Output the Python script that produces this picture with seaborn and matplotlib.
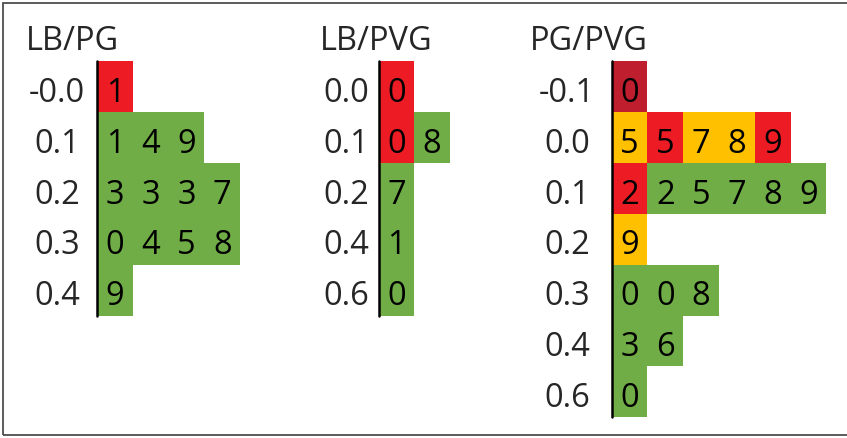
# Stem-and-leaf displays of the three ratios, leaves coloured by category

import numpy as np
import pandas as pd
import matplotlib
matplotlib.use("Agg")
import matplotlib.pyplot as plt
from matplotlib.colors import ListedColormap
from matplotlib.patches import Rectangle
import seaborn as sns

sns.set_style("white")
plt.rcParams['font.family'] = ['Open Sans', 'DejaVu Sans']

# Data
titles = ["LB/PG", "LB/PVG", "PG/PVG"]

stems_lb_pg = ["-0.0", "0.1", "0.2", "0.3", "0.4"]
leaves_lb_pg = [[1], [1, 4, 9], [3, 3, 3, 7], [0, 4, 5, 8], [9]]
cats_lb_pg = [["r"], ["g", "g", "g"], ["g", "g", "g", "g"], ["g", "g", "g", "g"], ["g"]]

stems_lb_pvg = ["0.0", "0.1", "0.2", "0.4", "0.6"]
leaves_lb_pvg = [[0], [0, 8], [7], [1], [0]]
cats_lb_pvg = [["r"], ["r", "g"], ["g"], ["g"], ["g"]]

stems_pg_pvg = ["-0.1", "0.0", "0.1", "0.2", "0.3", "0.4", "0.6"]
leaves_pg_pvg = [[0], [5, 5, 7, 8, 9], [2, 2, 5, 7, 8, 9], [9], [0, 0, 8], [3, 6], [0]]
cats_pg_pvg = [["dr"], ["o", "r", "o", "o", "r"], ["r", "g", "g", "g", "g", "g"],
               ["o"], ["g", "g", "g"], ["g", "g"], ["g"]]

cat_codes = {"g": 0, "o": 1, "r": 2, "dr": 3}
cmap = ListedColormap(["#70AD47", "#FFC000", "#ED1C24", "#BE1E2D"])

# layout (pixels)
W, H = 847, 438
cell_w, cell_h = 35.8, 50.9
top_px = 61
panels = [
    (stems_lb_pg, leaves_lb_pg, cats_lb_pg, 97, 57, 26),
    (stems_lb_pvg, leaves_lb_pvg, cats_lb_pvg, 378.5, 346, 320),
    (stems_pg_pvg, leaves_pg_pvg, cats_pg_pvg, 611.5, 567, 530),
]

fig = plt.figure(figsize=(W / 100, H / 100), dpi=100)
fs = 23.5

for title, (stems, leaves, cats, left_px, label_cx, title_x) in zip(titles, panels):
    nrows = len(stems)
    ncols = max(len(l) for l in leaves)
    codes = np.full((nrows, ncols), np.nan)
    annot = np.full((nrows, ncols), "", dtype=object)
    for i, (lv, ct) in enumerate(zip(leaves, cats)):
        for j, (v, c) in enumerate(zip(lv, ct)):
            codes[i, j] = cat_codes[c]
            annot[i, j] = str(v)
    df = pd.DataFrame(codes, index=stems)

    ax = fig.add_axes([left_px / W, 1 - (top_px + nrows * cell_h) / H,
                       ncols * cell_w / W, nrows * cell_h / H])
    sns.heatmap(df, ax=ax, cmap=cmap, vmin=-0.5, vmax=3.5, cbar=False,
                annot=annot, fmt="", linewidths=0,
                annot_kws={"fontsize": fs, "color": "black"})
    # put leaf digits on a baseline like the original
    for t in ax.texts:
        x, y = t.get_position()
        t.set_position((x, y + 0.30))
        t.set_va("baseline")

    ax.set_xticks([])
    ax.set_yticks(np.arange(nrows) + 0.80)
    ax.set_yticklabels(stems, rotation=0, ha="center", va="baseline", fontsize=fs)
    ax.tick_params(axis="y", length=0, pad=(left_px - label_cx) * 0.72)
    ax.set_ylabel("")
    ax.axvline(0, color="black", lw=1.8, clip_on=False)

    fig.text(title_x / W, 1 - 50 / H, title, fontsize=fs, ha="left", va="baseline")

fig.patches.append(Rectangle((3 / W, 3 / H), (W + 5) / W, (H - 6) / H, fill=False,
                             edgecolor="#404040", lw=1.2, transform=fig.transFigure))

plt.savefig("out.png", dpi=100)
